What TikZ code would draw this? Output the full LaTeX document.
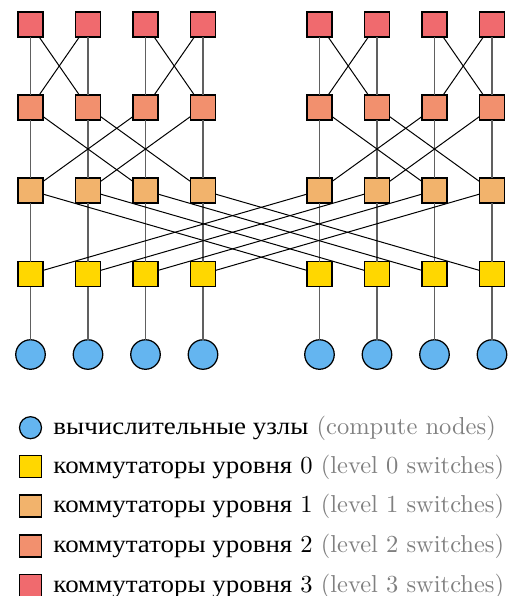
\documentclass[tikz,border=0pt]{standalone}
\usepackage{fontspec}
\newfontfamily\cyr[FakeStretch=1.1]{Liberation Serif}
\definecolor{cthree}{HTML}{F06A6E}
\definecolor{ctwo}{HTML}{F2906E}
\definecolor{cone}{HTML}{F2B36C}
\definecolor{czero}{HTML}{FFD700}
\definecolor{ccomp}{HTML}{64B5F0}
\definecolor{vgray}{HTML}{606060}
\definecolor{tgray}{HTML}{808080}
\begin{document}
\begin{tikzpicture}[x=0.4pt,y=-0.4pt,
  sw/.style={draw=black,line width=0.5pt,minimum size=10pt,inner sep=0pt,outer sep=0pt},
  comp/.style={circle,draw=black,line width=0.5pt,fill=ccomp,minimum size=11.8pt,inner sep=0pt,outer sep=0pt},
  lsw/.style={draw=black,line width=0.5pt,minimum size=8.8pt,inner sep=0pt,outer sep=0pt},
  lcomp/.style={circle,draw=black,line width=0.5pt,fill=ccomp,minimum size=8.8pt,inner sep=0pt,outer sep=0pt},
  vline/.style={draw=vgray,line width=0.65pt},
  xline/.style={draw=black,line width=0.4pt},
  ltext/.style={anchor=base west,inner sep=0pt,font=\fontsize{9.8}{12}\selectfont}]
\useasboundingbox (0,0) rectangle (510,596);
\foreach \n/\x in {1/30.5,2/88,3/145.5,4/203,5/319.5,6/377,7/434.5,8/492}{
  \node[sw,fill=cthree] (s3\n) at (\x,24.5) {};
  \node[sw,fill=ctwo]   (s2\n) at (\x,107.5) {};
  \node[sw,fill=cone]   (s1\n) at (\x,190.5) {};
  \node[sw,fill=czero]  (s0\n) at (\x,274) {};
  \node[comp]           (c\n)  at (\x,354.5) {};
}
\foreach \n in {1,...,8}{
  \draw[vline] (c\n) -- (s0\n);
  \draw[vline] (s0\n) -- (s1\n);
  \draw[vline] (s1\n) -- (s2\n);
  \draw[vline] (s2\n) -- (s3\n);
}
\foreach \a/\b in {1/2,2/1,3/4,4/3,5/6,6/5,7/8,8/7}
  \draw[xline] (s3\a) -- (s2\b);
\foreach \a/\b in {1/3,2/4,3/1,4/2,5/7,6/8,7/5,8/6}
  \draw[xline] (s2\a) -- (s1\b);
\foreach \a/\b in {1/5,2/6,3/7,4/8,5/1,6/2,7/3,8/4}
  \draw[xline] (s1\a) -- (s0\b);
% legend
\node[lcomp] (lg0) at (30.5,427.7) {};
\node[lsw,fill=czero] (lg1) at (30.5,466.7) {};
\node[lsw,fill=cone]  (lg2) at (30.5,506) {};
\node[lsw,fill=ctwo]  (lg3) at (30.5,546) {};
\node[lsw,fill=cthree] (lg4) at (30.5,585.5) {};
\node[ltext] (lt0) at (53,434.2) {{\cyr вычислительные узлы} \textcolor{tgray}{(compute nodes)}};
\node[ltext] (lt1) at (53,473.2) {{\cyr коммутаторы уровня} 0 \textcolor{tgray}{(level 0 switches)}};
\node[ltext] (lt2) at (53,512.5) {{\cyr коммутаторы уровня} 1 \textcolor{tgray}{(level 1 switches)}};
\node[ltext] (lt3) at (53,552.5) {{\cyr коммутаторы уровня} 2 \textcolor{tgray}{(level 2 switches)}};
\node[ltext] (lt4) at (53,592) {{\cyr коммутаторы уровня} 3 \textcolor{tgray}{(level 3 switches)}};
\end{tikzpicture}
\end{document}
